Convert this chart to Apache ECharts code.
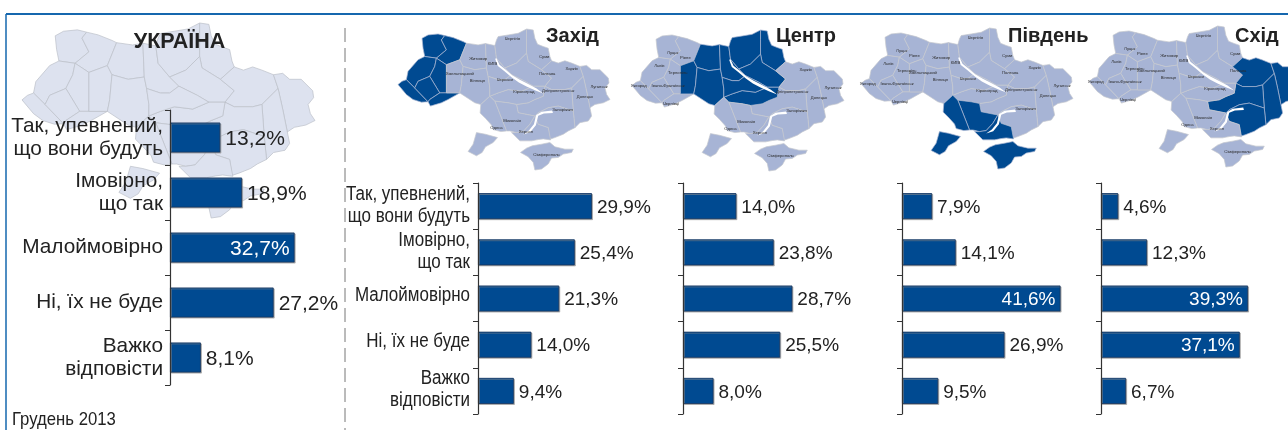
<!DOCTYPE html>
<html><head><meta charset="utf-8">
<style>html,body{margin:0;padding:0;background:#fff}#c{width:1288px;height:430px}</style>
<script src="https://cdn.jsdelivr.net/npm/echarts@6/dist/echarts.min.js"></script>
</head><body><div id="c"></div>
<script>
const categories = ['Так, упевнений,\nщо вони будуть','Імовірно,\nщо так','Малоймовірно','Ні, їх не буде','Важко\nвідповісти'];
const ukraine = [13.2,18.9,32.7,27.2,8.1];
const west    = [29.9,25.4,21.3,14.0,9.4];
const centre  = [14.0,23.8,28.7,25.5,8.0];
const south   = [7.9,14.1,41.6,26.9,9.5];
const east    = [4.6,12.3,39.3,37.1,6.7];
const panelTitles = ['УКРАЇНА','Захід','Центр','Південь','Схід'];
const dateNote = 'Грудень 2013';

// схематичні контури областей (для карт)
const regionShapes = {
 'Луцьк':[[82,40],[100,30],[130,27],[150,32],[140,45],[155,75],[125,100],[90,95],[85,70]],
 'Рівне':[[150,32],[175,38],[205,50],[215,55],[195,105],[155,120],[125,100],[155,75],[140,45]],
 'Львів':[[90,95],[125,100],[120,125],[105,155],[70,170],[60,190],[35,165],[40,140],[70,105]],
 'Тернопіль':[[125,100],[155,120],[155,205],[135,205],[105,155],[120,125]],
 'Ужгород':[[10,180],[22,170],[35,165],[60,190],[100,232],[80,233],[55,225],[35,210]],
 'Івано-Франківськ':[[60,190],[70,170],[105,155],[135,205],[105,225],[100,232]],
 'Чернівці':[[105,225],[135,205],[155,205],[195,205],[160,225],[140,235],[107,245],[100,232]],
 'Хмельницький':[[155,120],[195,105],[205,125],[200,180],[195,205],[155,205]],
 'Житомир':[[215,55],[250,60],[272,56],[275,130],[240,135],[205,125],[195,105]],
 'Вінниця':[[205,125],[240,135],[275,130],[280,155],[285,190],[285,215],[258,240],[240,235],[210,215],[195,205],[200,180]],
 'КИЇВ':[[272,56],[300,62],[305,100],[330,130],[350,150],[330,165],[310,165],[280,155],[275,130]],
 'Чернігів':[[300,62],[305,45],[310,35],[340,30],[370,25],[395,12],[395,40],[395,85],[365,115],[330,130],[305,100]],
 'Суми':[[395,12],[415,15],[420,40],[428,58],[445,65],[460,70],[465,95],[470,108],[440,135],[400,110],[395,85],[395,40]],
 'Полтава':[[365,115],[395,85],[400,110],[440,135],[470,160],[450,185],[415,185],[390,170],[350,150],[330,130]],
 'Харків':[[470,108],[490,115],[510,108],[530,115],[555,125],[565,155],[530,190],[510,195],[470,195],[450,185],[470,160],[440,135]],
 'Луганськ':[[555,125],[575,122],[590,135],[615,135],[640,160],[642,175],[630,190],[635,210],[645,225],[625,235],[600,240],[585,250],[575,200],[565,155]],
 'Донецьк':[[565,155],[575,200],[585,250],[590,275],[580,290],[555,295],[540,310],[535,260],[530,190]],
 'Дніпропетровськ':[[450,185],[470,195],[510,195],[530,190],[535,260],[490,245],[460,250],[430,265],[420,275],[370,265],[365,240],[400,235],[420,225],[445,215]],
 'Запоріжжя':[[430,265],[460,250],[490,245],[535,260],[540,310],[520,320],[505,330],[480,340],[465,345],[460,310],[430,300],[420,275]],
 'Кіровоград':[[285,215],[310,205],[340,195],[380,200],[415,185],[450,185],[445,215],[420,225],[400,235],[365,240],[340,235],[300,230]],
 'Черкаси':[[280,155],[310,165],[330,165],[350,150],[390,170],[415,185],[380,200],[340,195],[310,205],[285,215],[285,190]],
 'Миколаїв':[[300,230],[340,235],[365,240],[370,265],[420,275],[405,300],[385,322],[365,325],[345,320],[335,320]],
 'Одеса':[[258,240],[285,215],[300,230],[335,320],[318,322],[295,316],[290,302],[272,282],[256,266]],
 'Одещина-південь':[[245,325],[272,330],[308,340],[295,355],[272,368],[262,385],[245,395],[220,382],[235,360]],
 'Херсон':[[385,322],[405,300],[420,275],[430,300],[460,310],[467,347],[445,344],[430,346],[410,350],[375,350],[350,325],[365,325]],
 'Сімферополь':[[377,385],[395,372],[412,365],[440,360],[465,355],[480,368],[510,375],[535,375],[530,385],[505,390],[490,400],[470,402],[460,420],[440,435],[420,438],[415,415],[400,398]],
 'Річка-1':[[305,100],[314,120],[332,134],[352,152],[375,165],[400,178],[425,192],[445,207],[443,210],[420,197],[395,186],[372,174],[350,158],[328,139],[309,124],[301,102]],
 'Річка-2':[[472,258],[474,266],[447,267],[430,274],[423,303],[406,324],[385,331],[384,328],[402,319],[417,300],[424,272],[440,262]]
};
const labelPoints = {
 'Луцьк':[132,82],'Рівне':[170,95],'Львів':[92,120],'Тернопіль':[147,140],'Ужгород':[30,182],'Івано-Франківськ':[118,182],
 'Чернівці':[127,235],'Хмельницький':[195,148],'Житомир':[250,103],'Вінниця':[248,168],'КИЇВ':[293,118],'Чернігів':[353,43],
 'Суми':[448,97],'Полтава':[457,148],'Харків':[530,131],'Луганськ':[612,187],'Донецьк':[570,217],'Дніпропетровськ':[490,200],
 'Запоріжжя':[503,257],'Кіровоград':[387,203],'Черкаси':[330,167],'Миколаїв':[352,290],'Одеса':[305,310],'Херсон':[393,323],'Сімферополь':[455,393]
};
const westRegions = ['Луцьк','Рівне','Львів','Тернопіль','Ужгород','Івано-Франківськ','Чернівці'];
const centreRegions = ['Хмельницький','Житомир','Вінниця','КИЇВ','Чернігів','Суми','Полтава','Кіровоград','Черкаси'];
const southRegions = ['Миколаїв','Одеса','Одещина-південь','Херсон','Сімферополь'];
const eastRegions = ['Харків','Луганськ','Донецьк','Дніпропетровськ','Запоріжжя'];

function mapFrom(names){
  return {type:'FeatureCollection',features:names.map(n=>({
    type:'Feature',
    properties:Object.assign({name:n},labelPoints[n]?{cp:[labelPoints[n][0],-labelPoints[n][1]]}:{}),
    geometry:{type:'Polygon',coordinates:[regionShapes[n].map(p=>[p[0],-p[1]])]}
  }))};
}
const allNames=Object.keys(regionShapes);
echarts.registerMap('ua',mapFrom(allNames));
echarts.registerMap('uaPlain',mapFrom(allNames.filter(n=>!n.startsWith('Річка'))));

const BLUE='#004a91', INK='#222222';
const SANS='"Liberation Sans",Arial,sans-serif';
const PX_PER_PCT=3.81;

function geoOf(map,left,top,width,height,darkNames,base,border,labels){
  const regions=allNames.map(n=>{
    const river=n.startsWith('Річка'); const dark=darkNames.includes(n);
    return {name:n,silent:true,
      itemStyle:{areaColor:river?'#ffffff':dark?BLUE:base,borderColor:river?'#ffffff':dark?'#a9b6d2':border,borderWidth:river?0:0.7},
      label:{show:labels&&!dark&&!river&&!!labelPoints[n]}};
  });
  return {map,left,top,width,height,aspectScale:1,roam:false,silent:true,z:0,
    label:{show:labels,fontSize:4.2,color:'#2a2a2a',fontFamily:SANS},
    itemStyle:{areaColor:base,borderColor:border,borderWidth:0.7},
    emphasis:{disabled:true},select:{disabled:true},regions};
}

const panels=[
 {data:ukraine,left:170,top:110,h:275,bw:30,fs:21,lab:true,ax:40},
 {data:west,left:478,top:183,h:231,bw:26,fs:19,lab:false,ax:50},
 {data:centre,left:683,top:183,h:231,bw:26,fs:19,lab:false,ax:50},
 {data:south,left:902,top:183,h:231,bw:26,fs:19,lab:false,ax:50},
 {data:east,left:1101,top:183,h:231,bw:26,fs:19,lab:false,ax:50}
];
const grid=[],xAxis=[],yAxis=[],series=[];
panels.forEach((p,i)=>{
  grid.push({left:p.left,top:p.top,height:p.h,width:p.ax*PX_PER_PCT});
  xAxis.push({type:'value',gridIndex:i,min:0,max:p.ax,show:false});
  yAxis.push({type:'category',gridIndex:i,inverse:true,data:categories,z:5,
    axisLine:{show:true,lineStyle:{color:'#333',width:1.2}},
    axisTick:{show:true,length:5,inside:false,lineStyle:{color:'#333',width:1}},
    axisLabel:p.lab?{show:true,fontFamily:SANS,fontSize:20.8,color:INK,margin:7,lineHeight:23,align:'right'}:{show:false}});
  series.push({type:'bar',xAxisIndex:i,yAxisIndex:i,barWidth:p.bw,silent:true,animation:false,
    itemStyle:{color:BLUE,borderColor:'#15355f',borderWidth:0.8,shadowColor:'rgba(140,140,140,0.7)',shadowOffsetX:1,shadowOffsetY:1,shadowBlur:0},
    data:p.data.map(v=>{
      const inside=v>=30;
      return {value:v,label:{show:true,position:inside?'insideRight':'right',distance:5,offset:[0,1.5],color:inside?'#fff':INK,
        fontFamily:SANS,fontSize:p.fs,formatter:String(v.toFixed(1)).replace('.',',')+'%'}};
    })});
});

function txt(x,y,text,size,weight,align,scaleX,lh){
  return {type:'text',x,y,scaleX:scaleX||1,silent:true,z:10,style:{text,fill:INK,font:(weight||'normal')+' '+size+'px '+SANS,textAlign:align||'left',textVerticalAlign:'middle',lineHeight:lh||undefined}};
}
const baseGraphic=[
 {type:'line',silent:true,shape:{x1:6,y1:14,x2:1288,y2:14},style:{stroke:'#1567ae',lineWidth:2}},
 {type:'line',silent:true,shape:{x1:6,y1:14,x2:6,y2:430},style:{stroke:'#1567ae',lineWidth:1.5}},
 {type:'line',silent:true,shape:{x1:345,y1:28,x2:345,y2:430},style:{stroke:'#777',lineWidth:1,lineDash:[14,6]}},
 txt(179.5,42,panelTitles[0],21.5,'bold','center'),
 txt(546,36,panelTitles[1],20,'bold'),
 txt(776,36,panelTitles[2],20,'bold'),
 txt(1008,36,panelTitles[3],20,'bold'),
 txt(1235,36,panelTitles[4],20,'bold'),
 txt(12,420,dateNote,19,'normal','left',0.88)
];
const geo=[
 geoOf('uaPlain',22,23,293,195,[],'#dde2ef','#bcc0c8',false),
 geoOf('ua',398,29,212,141,westRegions,'#a7b4d5','#c6c9cf',true),
 geoOf('ua',632,30,212,141,centreRegions,'#a7b4d5','#c6c9cf',true),
 geoOf('ua',861,28,212,141,southRegions,'#a7b4d5','#c6c9cf',true),
 geoOf('ua',1089,26,212,141,eastRegions,'#a7b4d5','#c6c9cf',true)
];
const chart=echarts.init(document.getElementById('c'),null,{renderer:'canvas'});
chart.setOption({animation:false,backgroundColor:'#fff',geo,grid,xAxis,yAxis,series,graphic:baseGraphic});
// вузькі підписи категорій панелі «Захід»: позиція береться зі шкали осі
const narrowLabels=categories.map((c,i)=>{
  const y=chart.convertToPixel({yAxisIndex:1},i);
  return txt(470,y+(c.includes('\n')?-1:-3.5),c,20,'normal','right',0.85,22);
});
chart.setOption({graphic:baseGraphic.concat(narrowLabels)});
</script></body></html>
